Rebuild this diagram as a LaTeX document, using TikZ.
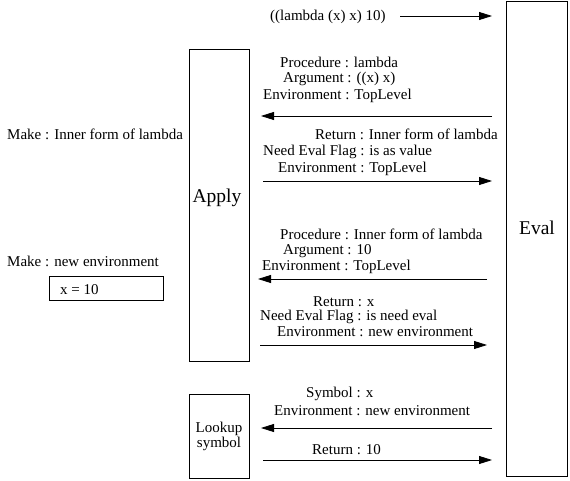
\documentclass[tikz,border=0pt]{standalone}
\usepackage{fontspec}
\setmainfont{Liberation Serif}
\usetikzlibrary{arrows.meta}
\begin{document}
\begin{tikzpicture}[x=1pt,y=-1pt,
  txt/.style={anchor=west,inner sep=0pt,yshift=-1.5pt,font=\fontsize{15}{16}\selectfont},
  big/.style={inner sep=0pt,font=\fontsize{19.5}{20}\selectfont},
  box/.style={draw,line width=0.8pt,inner sep=0pt},
  msg/.style={line width=0.8pt,-{Triangle[length=13pt,width=8pt]}}]
\useasboundingbox (0,0) rectangle (570,481);
% boxes
\node[box,minimum width=60pt,minimum height=312pt] (apply) at (219,205) {};
\node[box,minimum width=61pt,minimum height=475pt] (eval) at (536.5,238.5) {};
\node[box,minimum width=60pt,minimum height=84pt,align=center,
  font=\fontsize{15}{15}\selectfont] (lookup) at (219,436) {Lookup\\symbol};
\node[box,minimum width=114pt,minimum height=24pt] (envbox) at (106,288) {};
\node[big] (applyt) at (217,198) {Apply};
\node[big] (evalt) at (537,228) {Eval};
\node[txt] (xval) at (60,288) {x = 10};
% left texts
\node[txt] (mk1) at (7,133) {Make : Inner form of lambda};
\node[txt] (mk2) at (7,260) {Make : new environment};
% top
\node[txt] (expr) at (270,15) {((lambda (x) x) 10)};
% block 1
\node[txt] (b1a) at (280,61) {Procedure : lambda};
\node[txt] (b1b) at (283,77) {Argument : ((x) x)};
\node[txt] (b1c) at (263,94) {Environment : TopLevel};
% block 2
\node[txt] (b2a) at (315,133) {Return : Inner form of lambda};
\node[txt] (b2b) at (263,150) {Need Eval Flag : is as value};
\node[txt] (b2c) at (278,167) {Environment : TopLevel};
% block 3
\node[txt] (b3a) at (280,233) {Procedure : Inner form of lambda};
\node[txt] (b3b) at (283,250) {Argument : 10};
\node[txt] (b3c) at (262,265) {Environment : TopLevel};
% block 4
\node[txt] (b4a) at (313,300) {Return : x};
\node[txt] (b4b) at (260,315) {Need Eval Flag : is need eval};
\node[txt] (b4c) at (277,330) {Environment : new environment};
% block 5
\node[txt] (b5a) at (306,392) {Symbol : x};
\node[txt] (b5b) at (274,409) {Environment : new environment};
\node[txt] (b5c) at (312,448) {Return : 10};
% arrow end points
\coordinate (a1s) at (400,16);  \coordinate (a1e) at (492,16);
\coordinate (a2s) at (492,116); \coordinate (a2e) at (261,116);
\coordinate (a3s) at (263,181); \coordinate (a3e) at (492,181);
\coordinate (a4s) at (487,279); \coordinate (a4e) at (258,279);
\coordinate (a5s) at (260,345); \coordinate (a5e) at (487,345);
\coordinate (a6s) at (492,428); \coordinate (a6e) at (261,428);
\coordinate (a7s) at (263,460); \coordinate (a7e) at (492,460);
\draw[msg] (a1s) -- (a1e);
\draw[msg] (a2s) -- (a2e);
\draw[msg] (a3s) -- (a3e);
\draw[msg] (a4s) -- (a4e);
\draw[msg] (a5s) -- (a5e);
\draw[msg] (a6s) -- (a6e);
\draw[msg] (a7s) -- (a7e);
\end{tikzpicture}
\end{document}
